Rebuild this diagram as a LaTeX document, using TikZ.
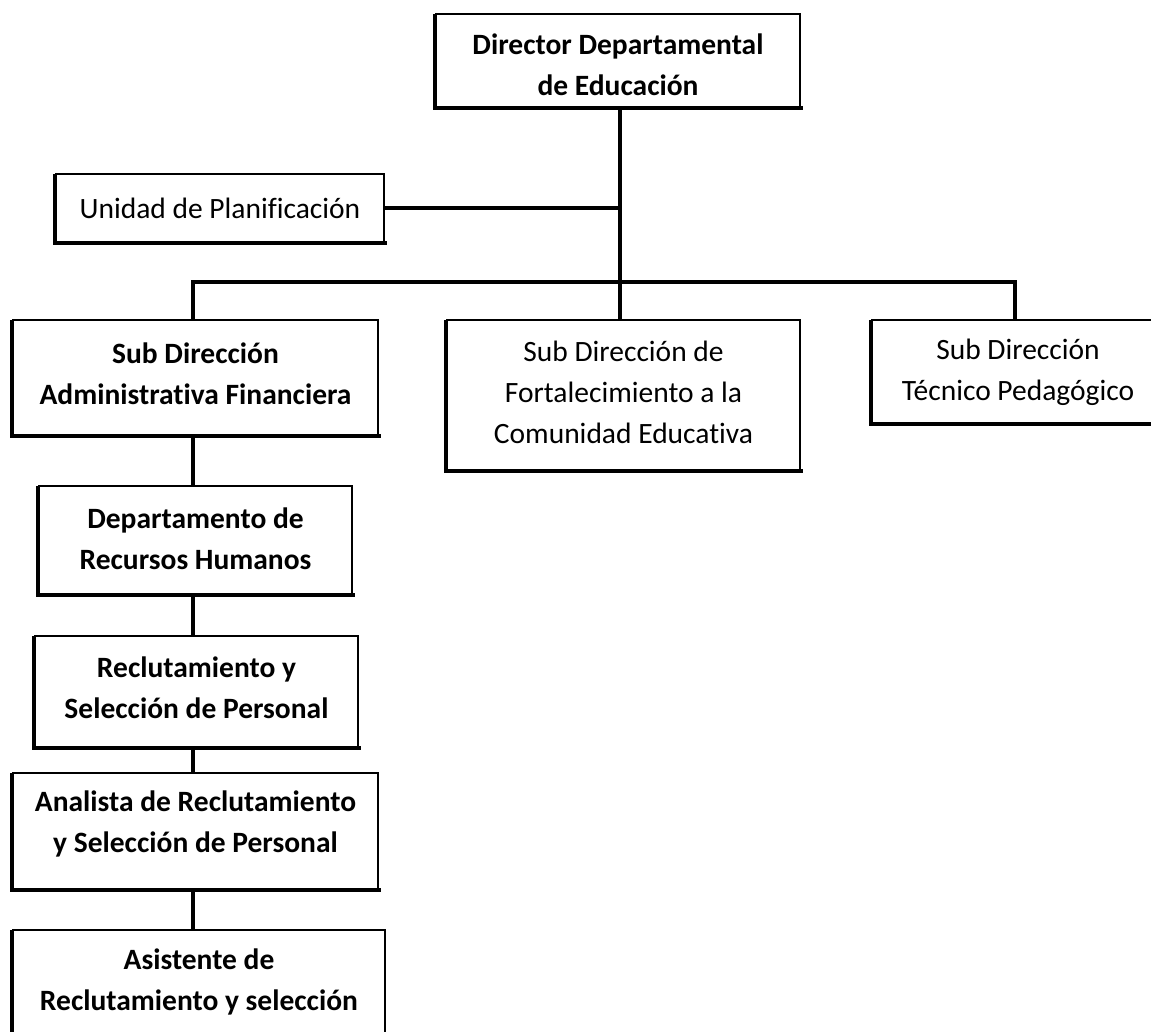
\documentclass[tikz,border=0pt]{standalone}
\usepackage{fontspec}
\setmainfont{Carlito}[Ligatures=NoCommon]
\usetikzlibrary{fit}
\begin{document}
\begin{tikzpicture}[x=1pt,y=-1pt,
  orgbox/.style={draw, line width=2.6pt, inner sep=0pt},
  caption/.style={inner sep=0pt, align=center,
    font=\fontsize{29.5}{41}\selectfont},
  boldcaption/.style={caption, font=\fontsize{29.5}{41}\selectfont\bfseries},
  shade edge/.style={line width=4.2pt, line cap=butt, line join=miter},
  link/.style={line width=3.8pt}]
\clip (0,0) rectangle (1151,1031);
\fill[white] (0,0) rectangle (1151,1031);

% frames
\node[orgbox, fit={(436,14) (800,107)}]   (dir)  {};
\node[orgbox, fit={(56,174) (384,242)}]   (uni)  {};
\node[orgbox, fit={(13,320) (378,435)}]   (sda)  {};
\node[orgbox, fit={(447,320) (800,470)}]  (sdf)  {};
\node[orgbox, fit={(872,320) (1164,423)}] (sdt)  {};
\node[orgbox, fit={(39,486) (352,594)}]   (rrhh) {};
\node[orgbox, fit={(35,636) (358,747)}]   (rec)  {};
\node[orgbox, fit={(13,773) (378,889)}]   (ana)  {};
\node[orgbox, fit={(13,930) (385,1060)}]  (asi)  {};

% heavier left and bottom edges
\foreach \n in {dir,uni,sda,sdf,sdt,rrhh,rec,ana,asi}
  \draw[shade edge] ([yshift=-1.3pt]\n.north west) -- (\n.south west) -- ([xshift=1.3pt]\n.south east);

% captions
\node[boldcaption] (dirT)  at (618,65)      {Director Departamental\\de Educación};
\node[caption]     (uniT)  at (220,208)     {Unidad de Planificación};
\node[boldcaption] (sdaT)  at (195.5,373.5) {Sub Dirección\\Administrativa Financiera};
\node[caption]     (sdfT)  at (623.5,392.5) {Sub Dirección de\\Fortalecimiento a la\\Comunidad Educativa};
\node[caption]     (sdtT)  at (1018,372)    {Sub Dirección\\Técnico Pedagógico};
\node[boldcaption] (rrhhT) at (195.5,538.5) {Departamento de\\Recursos Humanos};
\node[boldcaption] (recT)  at (196.5,687.5) {Reclutamiento y\\Selección de Personal};
\node[boldcaption] (anaT)  at (195.5,823.5) {Analista de Reclutamiento\\y Selección de Personal};
\node[boldcaption] (asiT)  at (199,982)     {Asistente de\\Reclutamiento y selección};

% connector guides
\coordinate (trunk) at (620,0);
\coordinate (col) at (193,0);
\coordinate (tcol) at (1015,0);
\coordinate (bus) at (0,282);

\draw[link] (trunk |- dir.south) -- (trunk |- sdf.north);
\draw[link] (uni.east) -- (uni.east -| trunk);
\draw[link] (col |- sda.north) |- (tcol |- bus) -- (tcol |- sdt.north);
\draw[link] (col |- sda.south) -- (col |- rrhh.north);
\draw[link] (col |- rrhh.south) -- (col |- rec.north);
\draw[link] (col |- rec.south) -- (col |- ana.north);
\draw[link] (col |- ana.south) -- (col |- asi.north);
\end{tikzpicture}
\end{document}
